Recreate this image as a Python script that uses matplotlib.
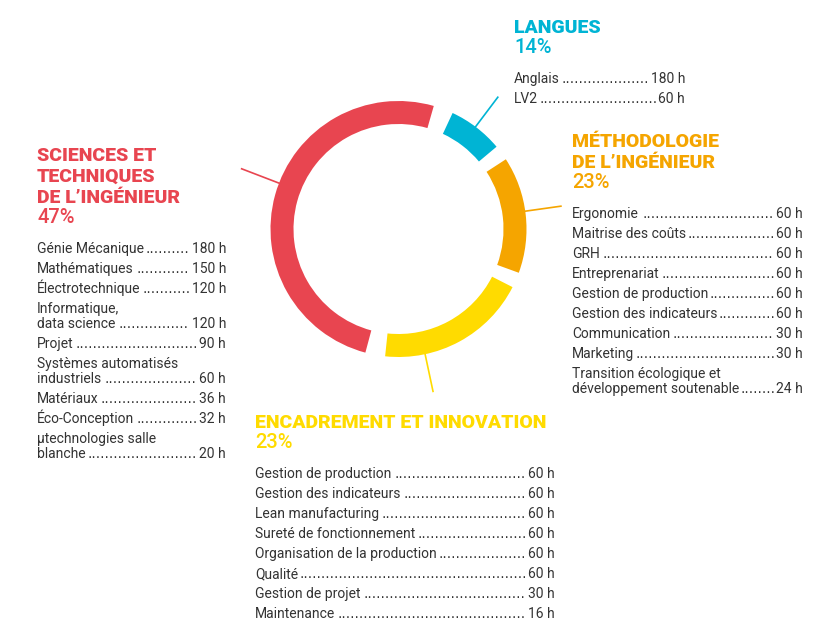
import matplotlib
matplotlib.use("Agg")
import matplotlib.pyplot as plt
import numpy as np

W, H = 840, 636

# ring: four arcs, spans in degrees as drawn in the picture (clockwise from top right)
ring_spans = [25, 53, 69, 181]
ring_gaps = [7, 7, 9, 9]
ring_colors = ["#00b4d4", "#f5a500", "#ffdb00", "#e84550"]
leader_angles = [53, 8, -78, 159]

# blocks of text
lang_title = ["LANGUES"]
lang_pct = "14%"
lang_items = ["Anglais", "LV2"]
lang_hours = [180, 60]

meth_title = ["MÉTHODOLOGIE", "DE L’INGÉNIEUR"]
meth_pct = "23%"
meth_items = ["Ergonomie", "Maitrise des coûts", "GRH", "Entreprenariat",
              "Gestion de production", "Gestion des indicateurs", "Communication",
              "Marketing", "Transition écologique et\ndéveloppement soutenable"]
meth_hours = [60, 60, 60, 60, 60, 60, 30, 30, 24]

enc_title = ["ENCADREMENT ET INNOVATION"]
enc_pct = "23%"
enc_items = ["Gestion de production", "Gestion des indicateurs", "Lean manufacturing",
             "Sureté de fonctionnement", "Organisation de la production", "Qualité",
             "Gestion de projet", "Maintenance"]
enc_hours = [60, 60, 60, 60, 60, 60, 30, 16]

sci_title = ["SCIENCES ET", "TECHNIQUES", "DE L’INGÉNIEUR"]
sci_pct = "47%"
sci_items = ["Génie Mécanique", "Mathématiques", "Électrotechnique",
             "Informatique,\ndata science", "Projet", "Systèmes automatisés\nindustriels",
             "Matériaux", "Éco-Conception", "µtechnologies salle\nblanche"]
sci_hours = [180, 150, 120, 120, 90, 60, 36, 32, 20]

TXT = "#333333"
plt.rcParams["font.family"] = ["Roboto", "DejaVu Sans"]

fig = plt.figure(figsize=(W / 100, H / 100), dpi=100)
ax = fig.add_axes([0, 0, 1, 1])

cx, cy, R, ring_w = 398.5, H - 229, 128, 23
vals, cols = [], []
for s, g, c in zip(ring_spans, ring_gaps, ring_colors):
    vals += [s, g]
    cols += [c, "none"]
ax.pie(vals, colors=cols, radius=R, center=(cx, cy), startangle=65,
       counterclock=False, wedgeprops=dict(width=ring_w, linewidth=0))

leader_len = [37, 36, 38, 40]
for a, L, c in zip(leader_angles, leader_len, ring_colors):
    t = np.radians(a)
    ax.plot([cx + R * np.cos(t), cx + (R + L) * np.cos(t)],
            [cy + R * np.sin(t), cy + (R + L) * np.sin(t)], color=c, lw=1.2)

ax.set_xlim(0, W)
ax.set_ylim(0, H)
ax.set_aspect("auto")
ax.axis("off")

rows = []


def block(x0, x1, y, title, pct, labels, hours, color):
    for line in title:
        ax.text(x0, H - y, line, color=color, fontsize=14, fontweight="black", va="baseline")
        y += 21
    ax.text(x0, H - y + 1, pct, color=color, fontsize=14.5, fontweight="medium", va="baseline")
    y += 29
    for lab, h in zip(labels, hours):
        parts = lab.split("\n")
        for p in parts[:-1]:
            ax.text(x0, H - y, p, color=TXT, fontsize=10, va="baseline")
            y += 15
        t = ax.text(x0, H - y, parts[-1], color=TXT, fontsize=10, va="baseline")
        v = ax.text(x1, H - y, f"{h} h", color=TXT, fontsize=10, va="baseline", ha="right")
        rows.append((t, v, y))
        y += 20


block(514, 685, 33, lang_title, lang_pct, lang_items, lang_hours, ring_colors[0])
block(572, 803, 147, meth_title, meth_pct, meth_items, meth_hours, ring_colors[1])
block(255, 555, 428, enc_title, enc_pct, enc_items, enc_hours, ring_colors[2])
block(37, 226, 161, sci_title, sci_pct, sci_items, sci_hours, ring_colors[3])

# dot leaders between label and hours
r = fig.canvas.get_renderer()
probe = ax.text(0, 0, "." * 20, fontsize=10, family="DejaVu Sans")
dot_w = probe.get_window_extent(r).width / 20
probe.remove()
for t, v, y in rows:
    a = t.get_window_extent(r).x1 + 1
    b = v.get_window_extent(r).x0 - 1
    n = int((b - a) / dot_w)
    if n > 0:
        ax.text((a + b) / 2, H - y, "." * n, color=TXT, fontsize=10, va="baseline",
                ha="center", family="DejaVu Sans")

fig.savefig("out.png", dpi=100)
